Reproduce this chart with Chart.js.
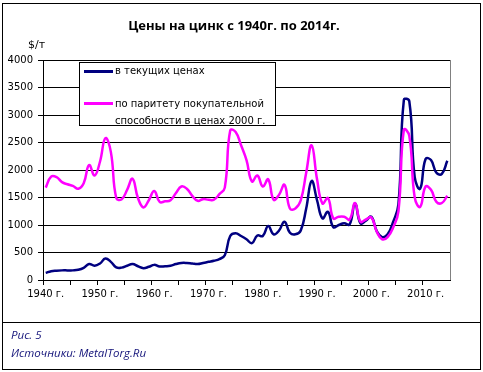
<!DOCTYPE html>
<html><head><meta charset="utf-8">
<script src="https://cdn.jsdelivr.net/npm/chart.js@4/dist/chart.umd.min.js"></script>
<style>
html,body{margin:0;padding:0;background:#fff;}
#wrap{position:relative;width:483px;height:372px;overflow:hidden;background:#fff;}
#c{position:absolute;left:0;top:0;}
.frame{position:absolute;border:1px solid #000;box-sizing:border-box;}
.t{position:absolute;white-space:nowrap;font-family:"DejaVu Sans",sans-serif;color:#000;}
</style></head>
<body>
<div id="wrap">
<div class="frame" style="left:2px;top:3px;width:479px;height:320px;"></div>
<div class="frame" style="left:2px;top:322px;width:479px;height:48px;"></div>
<canvas id="c" width="483" height="372"></canvas>
<div class="t" id="title" style="left:0;width:468px;top:16px;text-align:center;font-family:'Open Sans',sans-serif;font-weight:bold;font-size:13px;">Цены на цинк с 1940г. по 2014г.</div>
<div class="t" style="left:28px;top:38px;font-size:11px;">$/т</div>
<div id="legend" style="position:absolute;left:79px;top:62px;width:197px;height:64px;border:1px solid #000;box-sizing:border-box;background:#fff;">
  <div style="position:absolute;left:4px;top:7px;width:29px;height:3px;background:#000080;"></div>
  <div class="t" style="left:35px;top:2px;font-size:10px;">в текущих ценах</div>
  <div style="position:absolute;left:4px;top:39px;width:29px;height:3px;background:#FF00FF;"></div>
  <div class="t" style="left:35px;top:32px;font-size:10px;line-height:17px;">по паритету покупательной<br>способности в ценах 2000 г.</div>
</div>
<div class="t" style="left:11px;top:327px;font-family:'Open Sans',sans-serif;font-style:italic;font-size:11.5px;color:#14147a;">Рис. 5</div>
<div class="t" style="left:11px;top:345px;font-family:'Open Sans',sans-serif;font-style:italic;font-size:11.5px;color:#14147a;">Источники: MetalTorg.Ru</div>
</div>
<script>
const years = [];
for (let y = 1940; y <= 2014; y++) years.push(String(y));

const currentPrices = [
 130,160,170,175,175,175,185,220,290,260,   // 1940-1949
 300,390,330,230,225,260,290,250,215,240,   // 1950-1959
 275,245,250,260,290,310,310,300,290,310,   // 1960-1969
 330,350,380,450,800,850,800,740,670,810,   // 1970-1979
 800,980,830,900,1060,860,830,900,1300,1800,// 1980-1989
 1450,1120,1240,960,1000,1030,1010,1390,1030,1080, // 1990-1999
 1150,890,780,830,1050,1380,3275,3250,1870,1660,   // 2000-2009
 2200,2180,1950,1930,2170                          // 2010-2014
];
const pppPrices = [
 1680,1880,1870,1780,1740,1710,1660,1760,2090,1900, // 1940-1949
 2150,2580,2330,1490,1470,1640,1840,1490,1320,1450, // 1950-1959
 1620,1420,1430,1450,1580,1700,1660,1530,1440,1470, // 1960-1969
 1460,1460,1560,1680,2720,2690,2450,2180,1790,1900, // 1970-1979
 1700,1830,1460,1550,1730,1300,1300,1450,1950,2450, // 1980-1989
 1830,1390,1490,1120,1150,1150,1100,1400,1060,1100, // 1990-1999
 1140,880,740,780,950,1250,2730,2620,1500,1330,     // 2000-2009
 1700,1640,1420,1400,1530                           // 2010-2014
];
const yTicks = [0,500,1000,1500,2000,2500,3000,3500,4000];

const rightBorder = {
  id:'rightBorder',
  afterDraw(chart){
    const a = chart.chartArea, ctx = chart.ctx;
    ctx.save();
    ctx.strokeStyle = '#808080'; ctx.lineWidth = 1;
    ctx.beginPath(); ctx.moveTo(Math.round(a.right)+0.5, a.top); ctx.lineTo(Math.round(a.right)+0.5, a.bottom); ctx.stroke();
    ctx.restore();
  }
};

Chart.defaults.font.family = "'DejaVu Sans', sans-serif";
Chart.defaults.font.size = 10;
Chart.defaults.color = '#000';

new Chart(document.getElementById('c'), {
  type:'line',
  data:{
    labels: years,
    datasets:[
      {label:'по паритету покупательной способности в ценах 2000 г.', data:pppPrices, borderColor:'#FF00FF', borderWidth:2.5, pointRadius:0, tension:0.45, fill:false},
      {label:'в текущих ценах', data:currentPrices, borderColor:'#000080', borderWidth:2.5, pointRadius:0, tension:0.45, fill:false}
    ]
  },
  options:{
    responsive:false, animation:false, devicePixelRatio:1,
    layout:{padding:{left:0,right:33,top:60,bottom:0}},
    plugins:{legend:{display:false}, title:{display:false}, tooltip:{enabled:false}},
    scales:{
      x:{
        type:'category', offset:true,
        grid:{offset:true, drawOnChartArea:false, drawTicks:true, tickLength:5,
              tickColor:(c)=> (c.index % 5 === 0) ? '#000' : 'rgba(0,0,0,0)'},
        border:{display:true,color:'#000',width:1},
        ticks:{autoSkip:false, maxRotation:0, minRotation:0, padding:3,
               callback:function(v,i){ const y = years[i]; return (Number(y) % 10 === 0) ? y + ' г.' : ''; }},
        afterFit:(s)=>{ s.height = 92; }
      },
      y:{
        min:0, max:4000,
        afterBuildTicks:(s)=>{ s.ticks = yTicks.map(v=>({value:v})); },
        grid:{color:'#000', lineWidth:1, drawTicks:true, tickLength:5, tickColor:'#000'},
        border:{display:true,color:'#000',width:1},
        ticks:{padding:5, callback:(v)=>String(v)},
        afterFit:(s)=>{ s.width = 43; }
      }
    }
  },
  plugins:[rightBorder]
});
</script>
</body></html>
